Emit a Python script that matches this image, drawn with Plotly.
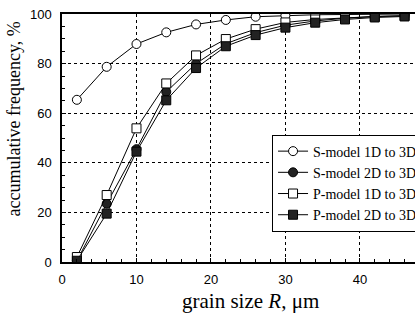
import plotly.graph_objects as go

grain_size = [2, 6, 10, 14, 18, 22, 26, 30, 34, 38, 42, 46]
s_model_1d = [65.4, 78.7, 87.9, 92.6, 95.8, 97.6, 98.9, 99.4, 99.7, 99.8, 99.9, 100.0]
s_model_2d = [0.5, 23.5, 45.5, 68.6, 80.0, 88.0, 92.5, 95.5, 97.2, 98.3, 99.0, 99.3]
p_model_1d = [2.0, 27.0, 53.9, 72.0, 83.3, 89.9, 93.9, 96.6, 97.8, 98.5, 99.0, 99.3]
p_model_2d = [0.5, 19.5, 44.5, 65.2, 78.2, 87.0, 91.5, 94.5, 96.5, 97.8, 98.6, 99.0]

series = [
    ("S-model 1D to 3D", s_model_1d, "circle", True),
    ("S-model 2D to 3D", s_model_2d, "circle", False),
    ("P-model 1D to 3D", p_model_1d, "square", True),
    ("P-model 2D to 3D", p_model_2d, "square", False),
]

fig = go.Figure()
for name, vals, sym, is_open in series:
    marker = dict(symbol=sym, size=9, color="white" if is_open else "#222222",
                  line=dict(color="black", width=1))
    fig.add_trace(go.Scatter(x=grain_size, y=vals, mode="lines+markers", name=name,
                             line=dict(color="black", width=1), marker=marker))

fig.update_layout(
    width=415, height=321,
    margin=dict(l=62, r=0, t=14, b=59, autoexpand=False),
    paper_bgcolor="white", plot_bgcolor="white",
    font=dict(family="Liberation Sans, Arial", size=13, color="black"),
    legend=dict(x=0.595, y=0.514, xanchor="left", yanchor="top",
                bgcolor="white", bordercolor="black", borderwidth=1,
                font=dict(family="Liberation Serif, Times New Roman", size=14),
                tracegroupgap=0, itemwidth=30),
    showlegend=True,
)
fig.update_xaxes(range=[0, 47.4], dtick=10, tick0=0,
                 showline=True, linecolor="black", linewidth=1.5, mirror=True,
                 showgrid=True, gridcolor="black", griddash="dot", gridwidth=1,
                 ticks="inside", ticklen=4, tickcolor="black",
                 minor=dict(dtick=2, ticks="inside", ticklen=3, tickcolor="black", showgrid=False),
                 zeroline=False, ticklabelstandoff=5,
                 tickfont=dict(family="Liberation Sans, Arial", size=13))
fig.update_yaxes(range=[0, 100], dtick=20, tick0=0,
                 showline=True, linecolor="black", linewidth=1.5, mirror=True,
                 showgrid=True, gridcolor="black", griddash="dot", gridwidth=1,
                 ticks="inside", ticklen=4, tickcolor="black",
                 minor=dict(dtick=5, ticks="inside", ticklen=3, tickcolor="black", showgrid=False),
                 zeroline=False, ticklabelstandoff=6,
                 tickfont=dict(family="Liberation Sans, Arial", size=13))

fig.add_annotation(text="grain size <i>R</i>, μm", xref="paper", yref="paper",
                   x=(250 - 62) / 353, y=(262.5 - 301) / 248, xanchor="center", yanchor="middle",
                   showarrow=False,
                   font=dict(family="Liberation Serif, Times New Roman", size=21))
fig.add_annotation(text="accumulative frequency, %", xref="paper", yref="paper",
                   x=(13 - 62) / 353, y=(262.5 - 120) / 248, xanchor="center", yanchor="middle",
                   textangle=-90, showarrow=False,
                   font=dict(family="Liberation Serif, Times New Roman", size=18))

fig.write_html("out.html", config={"displayModeBar": False},
               post_script="document.body.style.margin='0';")
